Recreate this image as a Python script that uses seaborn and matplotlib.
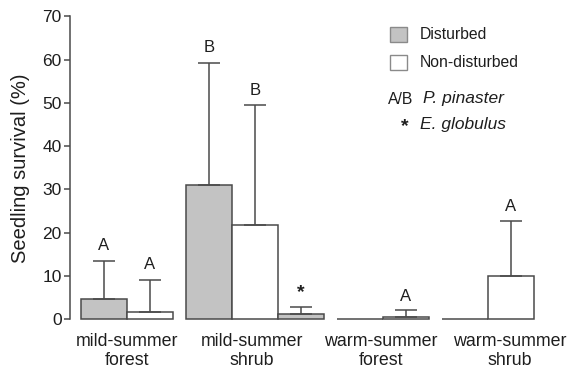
import numpy as np
import pandas as pd
import matplotlib
matplotlib.use("Agg")
import matplotlib.pyplot as plt
from matplotlib.patches import Rectangle
import seaborn as sns

# ---- data ----
groups = ["mild-summer\nforest", "mild-summer\nshrub", "warm-summer\nforest", "warm-summer\nshrub"]
bar_group = [0, 0, 1, 1, 1, 2, 2, 3, 3]
bar_kind = ["Disturbed", "Non-disturbed", "Disturbed", "Non-disturbed", "E. globulus",
            "Disturbed", "Non-disturbed", "Disturbed", "Non-disturbed"]
survival = [4.7, 1.6, 31.0, 21.8, 1.15, 0.0, 0.5, 0.0, 10.0]
err_top = [13.5, 9.0, 59.3, 49.6, 2.8, np.nan, 2.1, np.nan, 22.6]
letters = ["A", "A", "B", "B", "*", "", "A", "", "A"]
letter_y = [17.1, 12.6, 62.9, 52.8, 6.2, np.nan, 5.2, np.nan, 26.0]

# ---- layout ----
group_gap = 0.28
group_start = []
start = 0.0
for g in range(len(groups)):
    n = bar_group.count(g)
    group_start.append(start)
    start += n + group_gap
positions = []
counter = {g: 0 for g in range(len(groups))}
for g in bar_group:
    positions.append(group_start[g] + counter[g] + 0.5)
    counter[g] += 1
# label x offsets relative to group start (layout)
label_offset = [1.0, 1.44, 0.96, 1.49]
label_pos = [group_start[g] + label_offset[g] for g in range(len(groups))]

df = pd.DataFrame({"pos": positions, "survival": survival, "kind": bar_kind})

W, H = 569, 371
fig = plt.figure(figsize=(W / 100, H / 100), dpi=100)
plt.rcParams["font.family"] = ["Liberation Sans", "DejaVu Sans"]
ax = fig.add_axes([70 / W, (H - 319.3) / H, (W - 70) / W, (319.3 - 16.3) / H])

edge = "#4a4a4a"
gray = "#c3c3c3"
txt = "#1e1e1e"
palette = {"Disturbed": gray, "Non-disturbed": "white", "E. globulus": gray}
sns.barplot(data=df, x="pos", y="survival", hue="kind", palette=palette,
            native_scale=True, dodge=False, width=1.0, errorbar=None,
            edgecolor=edge, linewidth=1.1, legend=False, ax=ax, zorder=2)
for p in ax.patches:
    p.set_clip_on(False)

# error bars (upper only)
pos_arr = np.array(positions)
val_arr = np.array(survival)
top_arr = np.array(err_top)
mask = ~np.isnan(top_arr)
ax.errorbar(pos_arr[mask], val_arr[mask],
            yerr=[np.zeros(mask.sum()), top_arr[mask] - val_arr[mask]],
            fmt="none", ecolor=edge, elinewidth=1.1, capsize=8, capthick=1.1,
            zorder=3, clip_on=False)

for x, lab, ly in zip(positions, letters, letter_y):
    if lab:
        if lab == "*":
            ax.text(x, ly, lab, ha="center", va="center", fontsize=14, fontweight="bold", color=txt)
        else:
            ax.text(x, ly, lab, ha="center", va="center", fontsize=12, color=txt)

ax.set_xlim((70 - 81) / 46, (W - 81) / 46)
ax.set_ylim(0, 70)
ax.set_yticks(np.arange(0, 71, 10))
ax.set_xticks(label_pos)
ax.set_xticklabels(groups, fontsize=12.8, color=txt, linespacing=1.15)
ax.tick_params(axis="x", length=0, pad=10)
ax.tick_params(axis="y", length=4.5, width=1.1, color=edge, labelsize=12.5, labelcolor=txt, pad=1.5)
ax.set_xlabel("")
ax.set_ylabel("Seedling survival (%)", fontsize=14.5, color=txt, labelpad=9)
for s in ["top", "right", "bottom"]:
    ax.spines[s].set_visible(False)
ax.spines["left"].set_color(edge)
ax.spines["left"].set_linewidth(1.1)
ax.set_facecolor("white")

# custom legend
def fx(px):
    return px / W

def fy(py):
    return 1 - py / H

fig.add_artist(Rectangle((fx(390), fy(42)), 17 / W, 15 / H, transform=fig.transFigure,
                         facecolor=gray, edgecolor="#8a8a8a", linewidth=1.0))
fig.add_artist(Rectangle((fx(390), fy(70)), 17 / W, 15 / H, transform=fig.transFigure,
                         facecolor="white", edgecolor="#8a8a8a", linewidth=1.0))
fig.text(fx(420), fy(34.5), "Disturbed", ha="left", va="center", fontsize=11.3, color=txt)
fig.text(fx(420), fy(62.5), "Non-disturbed", ha="left", va="center", fontsize=11.3, color=txt)
fig.text(fx(388), fy(100), "A/B", ha="left", va="center", fontsize=11.3, color=txt)
fig.text(fx(423), fy(99), "P. pinaster", ha="left", va="center", fontsize=12.5, style="italic", color=txt)
fig.text(fx(405), fy(127), "*", ha="center", va="center", fontsize=14, fontweight="bold", color=txt)
fig.text(fx(420), fy(125), "E. globulus", ha="left", va="center", fontsize=12.5, style="italic", color=txt)

fig.savefig("out.png", dpi=100, facecolor="white")
